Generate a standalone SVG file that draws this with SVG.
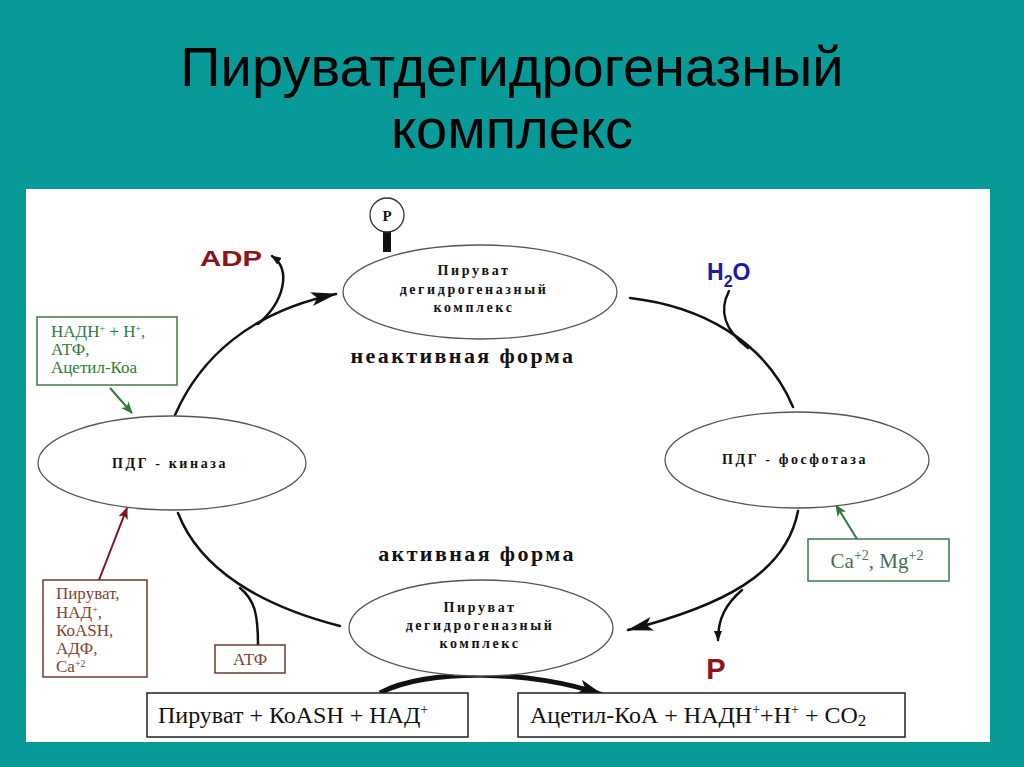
<svg xmlns="http://www.w3.org/2000/svg" width="1024" height="767" viewBox="0 0 1024 767">
<defs>
<style>
.title{font-family:"Liberation Sans",Arial,sans-serif;font-size:56px;fill:#000;text-anchor:middle}
.node{fill:#fff;stroke:#555;stroke-width:1.3}
.inner{font-family:"Liberation Serif","Times New Roman",serif;font-weight:bold;font-size:14px;fill:#111;text-anchor:middle;letter-spacing:2.6px}
.form{font-family:"Liberation Serif","Times New Roman",serif;font-weight:bold;font-size:22px;fill:#111;text-anchor:middle;letter-spacing:2.4px}
.cyc{fill:none;stroke:#111;stroke-width:2.5;stroke-linecap:round}
.gbox{fill:#fff;stroke:#3d7a46;stroke-width:1.5}
.gtxt{font-family:"Liberation Serif","Times New Roman",serif;font-size:17px;fill:#2f7a3c}
.bbox{fill:#fff;stroke:#6b3a30;stroke-width:1.5}
.btxt{font-family:"Liberation Serif","Times New Roman",serif;font-size:17px;fill:#7a4535}
.rbox{fill:#fff;stroke:#222;stroke-width:1.5}
.rtxt{font-family:"Liberation Serif","Times New Roman",serif;font-size:24px;fill:#111}
.big{font-family:"Liberation Sans",Arial,sans-serif;font-weight:bold;fill:#8b1418}
.sup{font-size:10px}
</style>
<marker id="ah" markerWidth="10" markerHeight="8" refX="9" refY="4" orient="auto" markerUnits="userSpaceOnUse">
<path d="M0,0 L10,4 L0,8 z" fill="#111"/>
</marker>
<marker id="ahBig" markerWidth="26" markerHeight="14" refX="25" refY="7" orient="auto" markerUnits="userSpaceOnUse">
<path d="M0,0 L26,7 L0,14 L6,7 z" fill="#111"/>
</marker>
<marker id="ahG" markerWidth="12" markerHeight="10" refX="11" refY="5" orient="auto" markerUnits="userSpaceOnUse">
<path d="M0,0 L12,5 L0,10 L3,5 z" fill="#2f7a3c"/>
</marker>
<marker id="ahR" markerWidth="12" markerHeight="10" refX="11" refY="5" orient="auto" markerUnits="userSpaceOnUse">
<path d="M0,0 L12,5 L0,10 L3,5 z" fill="#7a1520"/>
</marker>
</defs>
<rect x="0" y="0" width="1024" height="767" fill="#089a98"/>
<rect x="26" y="189" width="964" height="553" fill="#fff"/>
<text class="title" x="512" y="86">Пируватдегидрогеназный</text>
<text class="title" x="512" y="148">комплекс</text>

<g id="connectors">
<path class="cyc" d="M175,415 C200,358 250,312 336,294" marker-end="url(#ahBig)"/>
<path class="cyc" d="M258,324 C284,302 292,270 272,256" marker-end="url(#ah)"/>
<path class="cyc" d="M630,298 C700,306 765,340 793,407"/>
<path class="cyc" d="M729,291 C719,310 724,330 748,348"/>
<path class="cyc" d="M798,511 C786,574 722,606 628,630" marker-end="url(#ahBig)"/>
<path class="cyc" d="M742,590 C726,604 718,618 718,640" marker-end="url(#ah)"/>
<path class="cyc" d="M178,513 C200,570 262,606 340,626"/>
<path class="cyc" d="M240,588 C255,600 258,615 258,645"/>
<path fill="none" stroke="#111" stroke-width="5" d="M380,693 C425,668 535,670 603,695" marker-end="url(#ahBig)"/>
<path fill="none" stroke="#2f7a3c" stroke-width="2" d="M110,388 L132,413" marker-end="url(#ahG)"/>
<path fill="none" stroke="#7a1520" stroke-width="2" d="M99,580 L127,508" marker-end="url(#ahR)"/>
<path fill="none" stroke="#2f7a3c" stroke-width="2" d="M857,539 L836,505" marker-end="url(#ahG)"/>
</g>

<g id="phosphate">
<rect x="383" y="230" width="8" height="22" fill="#111"/>
<circle cx="387" cy="215" r="17" fill="#fff" stroke="#333" stroke-width="1.3"/>
<text x="387" y="221" font-family="Liberation Serif,serif" font-weight="bold" font-size="15" text-anchor="middle" fill="#111">P</text>
</g>

<g id="inactive">
<ellipse class="node" cx="480" cy="292" rx="137" ry="47"/>
<text class="inner" x="474" y="275">Пируват</text>
<text class="inner" x="474" y="294">дегидрогеназный</text>
<text class="inner" x="474" y="312">комплекс</text>
<text class="form" x="463" y="363" letter-spacing="2.8">неактивная форма</text>
</g>

<g id="kinase">
<ellipse class="node" cx="172" cy="463" rx="134" ry="47"/>
<text class="inner" x="170" y="468" letter-spacing="1.5">ПДГ - киназа</text>
</g>

<g id="phosphatase">
<ellipse class="node" cx="797" cy="460" rx="132" ry="48"/>
<text class="inner" x="795" y="464" letter-spacing="1.2">ПДГ - фосфотаза</text>
</g>

<g id="active">
<text class="form" x="477" y="561">активная форма</text>
<ellipse class="node" cx="481" cy="628" rx="132" ry="48"/>
<text class="inner" x="480" y="612">Пируват</text>
<text class="inner" x="480" y="630">дегидрогеназный</text>
<text class="inner" x="480" y="648">комплекс</text>
</g>

<g id="adp"><text class="big" x="200" y="266" font-size="22" textLength="62" lengthAdjust="spacingAndGlyphs">ADP</text></g>
<g id="h2o"><text x="707" y="280" font-family="Liberation Sans,Arial,sans-serif" font-weight="bold" font-size="23" fill="#1a1aa6">H<tspan font-size="16" dy="7">2</tspan><tspan dy="-7">O</tspan></text></g>
<g id="p-out"><text class="big" x="716" y="679" font-size="29" text-anchor="middle">P</text></g>

<g id="inhibitors">
<rect class="gbox" x="37" y="317" width="140" height="68"/>
<text class="gtxt" x="51" y="337">НАДН<tspan class="sup" dy="-5">+</tspan><tspan dy="5"> + Н</tspan><tspan class="sup" dy="-5">+</tspan><tspan dy="5">,</tspan></text>
<text class="gtxt" x="51" y="355">АТФ,</text>
<text class="gtxt" x="51" y="373">Ацетил-Коа</text>
</g>

<g id="kinase-inhibitors">
<rect class="bbox" x="43" y="580" width="104" height="97"/>
<text class="btxt" x="56" y="599">Пируват,</text>
<text class="btxt" x="56" y="618">НАД<tspan class="sup" dy="-5">+</tspan><tspan dy="5">,</tspan></text>
<text class="btxt" x="56" y="636">КоASH,</text>
<text class="btxt" x="56" y="654">АДФ,</text>
<text class="btxt" x="56" y="672">Ca<tspan class="sup" dy="-5">+2</tspan></text>
</g>

<g id="atp">
<rect class="bbox" x="215" y="645" width="70" height="28"/>
<text class="btxt" x="250" y="665" text-anchor="middle">АТФ</text>
</g>

<g id="activators">
<rect class="gbox" x="808" y="539" width="141" height="42"/>
<text x="877" y="568" font-family="Liberation Serif,serif" font-size="21" fill="#4a6b50" text-anchor="middle">Ca<tspan font-size="14" dy="-8">+2</tspan><tspan dy="8">, Mg</tspan><tspan font-size="14" dy="-8">+2</tspan></text>
</g>

<g id="substrates">
<rect class="rbox" x="147" y="693" width="321" height="44"/>
<text class="rtxt" x="158" y="723">Пируват + КоASH + НАД<tspan font-size="14" dy="-9">+</tspan></text>
</g>

<g id="products">
<rect class="rbox" x="518" y="693" width="387" height="44"/>
<text class="rtxt" x="530" y="723">Ацетил-КоА + НАДН<tspan font-size="14" dy="-9">+</tspan><tspan dy="9">+Н</tspan><tspan font-size="14" dy="-9">+</tspan><tspan dy="9"> + СО</tspan><tspan font-size="17" dy="3">2</tspan></text>
</g>
</svg>
